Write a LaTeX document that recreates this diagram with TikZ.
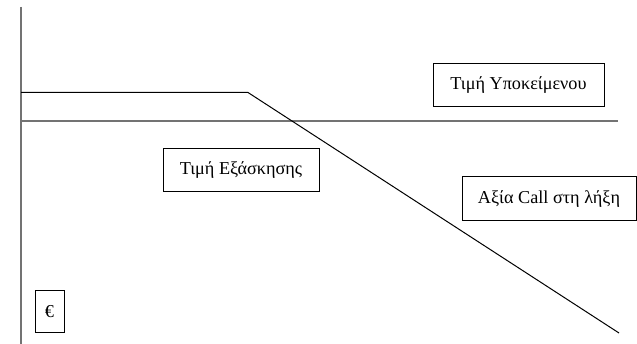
\documentclass[tikz,border=0pt]{standalone}
\usepackage{fontspec}
\setmainfont{Liberation Serif}
\begin{document}
\begin{tikzpicture}[x=1pt,y=-1pt,
  lbl/.style={draw=black,line width=1pt,inner sep=0pt,font=\fontsize{18.2}{21}\selectfont},
  axisln/.style={draw=black!55,line width=1.6pt},
  payoff/.style={draw=black,line width=1pt}]
\useasboundingbox[fill=white] (0,0) rectangle (637,344);
\coordinate (axtop) at (21,7);
\coordinate (axbot) at (21,344);
\coordinate (hl) at (21,121);
\coordinate (hr) at (618,121);
\coordinate (p0) at (21,92.5);
\coordinate (pk) at (248,92.5);
\coordinate (p1) at (619,333);
\draw[axisln] (axtop) -- (axbot);
\draw[axisln] (hl) -- (hr);
\draw[payoff] (p0) -- (pk) -- (p1);
\node[lbl,minimum width=171pt,minimum height=43pt] (under) at (518.5,85.5) {Τιμή Υποκείμενου};
\node[lbl,minimum width=156pt,minimum height=43pt] (strike) at (241,170.5) {Τιμή Εξάσκησης};
\node[lbl,minimum width=174pt,minimum height=44pt] (call) at (549,199) {Αξία Call στη λήξη};
\node[lbl,minimum width=29pt,minimum height=42pt] (eur) at (49.5,312) {€};
\end{tikzpicture}
\end{document}
